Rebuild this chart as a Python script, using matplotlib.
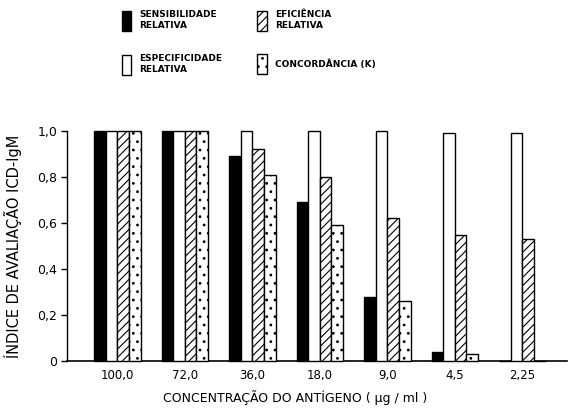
import numpy as np
import matplotlib
matplotlib.use('Agg')
import matplotlib.pyplot as plt
from matplotlib.patches import Patch

# Antigen concentrations (ug/ml) and the four evaluation indices
concentracoes = ['100,0', '72,0', '36,0', '18,0', '9,0', '4,5', '2,25']
sensibilidade = [1.00, 1.00, 0.89, 0.69, 0.28, 0.04, 0.00]
especificidade = [1.00, 1.00, 1.00, 1.00, 1.00, 0.99, 0.99]
eficiencia = [1.00, 1.00, 0.92, 0.80, 0.62, 0.55, 0.53]
concordancia = [1.00, 1.00, 0.81, 0.59, 0.26, 0.03, 0.00]
yticks = [0, 0.2, 0.4, 0.6, 0.8, 1.0]
ytick_labels = ['0', '0,2', '0,4', '0,6', '0,8', '1,0']

plt.rcParams['hatch.linewidth'] = 0.8
plt.rcParams['font.family'] = 'DejaVu Sans'

fig = plt.figure(figsize=(5.7, 4.12), dpi=100)
ax = fig.add_axes([0.1175, 0.1238, 0.877, 0.5582])

x = np.arange(len(concentracoes))
w = 0.172
series = [
    (sensibilidade, dict(facecolor='black', edgecolor='black', hatch=None)),
    (especificidade, dict(facecolor='white', edgecolor='black', hatch=None)),
    (eficiencia, dict(facecolor='white', edgecolor='black', hatch='////')),
    (concordancia, dict(facecolor='white', edgecolor='black', hatch='..')),
]
for k, (vals, style) in enumerate(series):
    ax.bar(x + (k - 1.5) * w, vals, width=w, linewidth=1.0,
           clip_on=False, zorder=3, **style)

ax.set_xlim(-0.747, 6.66)
ax.set_ylim(0, 1.0)
ax.set_xticks(x)
ax.set_xticklabels(concentracoes, fontsize=8.5)
ax.tick_params(axis='x', length=0, pad=6)
ax.set_yticks(yticks)
ax.set_yticklabels(ytick_labels, fontsize=9)
ax.tick_params(axis='y', length=4, width=1.0, direction='out', pad=3)
for s in ['top', 'right']:
    ax.spines[s].set_visible(False)
ax.spines['left'].set_linewidth(1.0)
ax.spines['bottom'].set_linewidth(1.2)

ax.set_ylabel('ÍNDICE DE AVALIAÇÃO ICD-IgM', fontsize=10.5)
ax.yaxis.set_label_coords(-0.09, 0.5)
fig.text(0.517, 0.036, 'CONCENTRAÇÃO DO ANTÍGENO ( µg / ml )',
         fontsize=9, ha='center', va='center')

handles = [
    Patch(facecolor='black', edgecolor='black'),
    Patch(facecolor='white', edgecolor='black'),
    Patch(facecolor='white', edgecolor='black', hatch='////'),
    Patch(facecolor='white', edgecolor='black', hatch='..'),
]
labels = ['SENSIBILIDADE\nRELATIVA', 'ESPECIFICIDADE\nRELATIVA',
          'EFICIÊNCIA\nRELATIVA', 'CONCORDÂNCIA (K)']
fig.legend(handles, labels, ncol=2, loc='upper left',
           bbox_to_anchor=(0.2, 0.995), frameon=False,
           prop={'size': 6.5, 'weight': 'bold'},
           handlelength=1.0, handleheight=3.0, handletextpad=0.9,
           columnspacing=3.9, labelspacing=2.6)

fig.savefig('out.png', dpi=100)
